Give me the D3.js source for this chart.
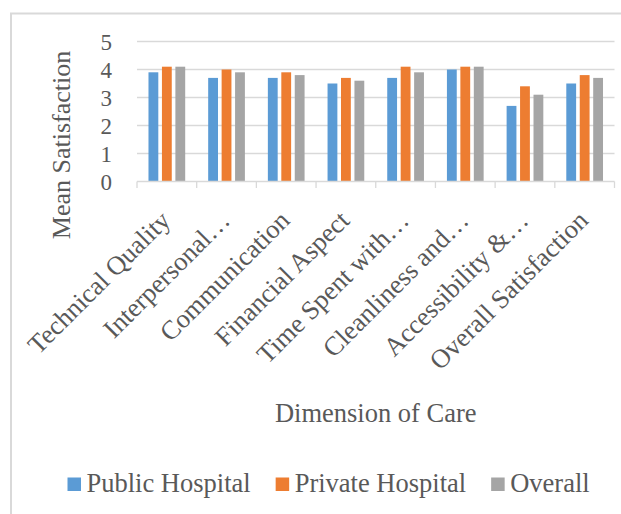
<!DOCTYPE html>
<html>
<head>
<meta charset="utf-8">
<script src="https://cdn.jsdelivr.net/npm/d3@7"></script>
<style>
  html, body { margin: 0; padding: 0; background: #fff; }
  svg { display: block; }
</style>
</head>
<body>
<svg id="chart" width="621" height="514" font-family="Liberation Serif, DejaVu Serif, Times New Roman, serif"></svg>
<script>
const categories = ["Technical Quality", "Interpersonal…", "Communication", "Financial Aspect",
  "Time Spent with…", "Cleanliness and…", "Accessibility &…", "Overall Satisfaction"];
const seriesNames = ["Public Hospital", "Private Hospital", "Overall"];
const publicValues = [3.9, 3.7, 3.7, 3.5, 3.7, 4.0, 2.7, 3.5];
const privateValues = [4.1, 4.0, 3.9, 3.7, 4.1, 4.1, 3.4, 3.8];
const overallValues = [4.1, 3.9, 3.8, 3.6, 3.9, 4.1, 3.1, 3.7];
const yTicks = [0, 1, 2, 3, 4, 5];
const colors = ["#5b9bd5", "#ed7d31", "#a5a5a5"];
const yTitle = "Mean Satisfaction";
const xTitle = "Dimension of Care";

const seriesValues = [publicValues, privateValues, overallValues];
const rows = categories.map((c, i) => ({ cat: c, vals: seriesValues.map((s, k) => ({ k, v: s[i] })) }));

const FONT = "Liberation Serif, DejaVu Serif, Times New Roman, serif";
const TXT = "#595959";
const svg = d3.select("#chart");
const grid = "#d9d9d9";

// chart border (cropped on right/bottom)
svg.append("path").attr("d", "M11,530 L11,13.5 L640,13.5")
  .attr("fill", "none").attr("stroke", grid).attr("stroke-width", 2);

const plot = { left: 137, right: 614.5, top: 41.5, bottom: 181.5 };
const x0 = d3.scaleBand().domain(categories).range([plot.left, plot.right]).paddingInner(0.385).paddingOuter(0.1925);
const x1 = d3.scaleBand().domain(d3.range(seriesNames.length)).range([0, x0.bandwidth()]).paddingInner(0.27);
const y = d3.scaleLinear().domain([0, 5]).range([plot.bottom, plot.top]);

// gridlines
svg.append("g").selectAll("line").data(yTicks.filter(t => t > 0)).join("line")
  .attr("x1", plot.left).attr("x2", plot.right)
  .attr("y1", d => y(d)).attr("y2", d => y(d))
  .attr("stroke", grid).attr("stroke-width", 1.3);

// y axis labels
const yAxis = d3.axisLeft(y).tickValues(yTicks).tickSize(0).tickPadding(0).tickFormat(d3.format("d"));
const yg = svg.append("g").attr("transform", `translate(112,0)`).call(yAxis);
yg.attr("font-family", FONT).attr("font-size", 23);
yg.select(".domain").remove();
yg.selectAll("text").attr("fill", TXT).attr("dy", "0.34em");

// bars
svg.append("g").selectAll("g").data(rows).join("g")
  .attr("transform", d => `translate(${x0(d.cat)},0)`)
  .selectAll("rect").data(d => d.vals).join("rect")
  .attr("x", d => x1(d.k)).attr("width", x1.bandwidth())
  .attr("y", d => y(d.v)).attr("height", d => y(0) - y(d.v))
  .attr("fill", d => colors[d.k]);

// x axis
const xg = svg.append("g").attr("transform", `translate(0,${plot.bottom})`);
xg.append("line").attr("x1", plot.left).attr("x2", plot.right).attr("y1", 0).attr("y2", 0)
  .attr("stroke", grid).attr("stroke-width", 1.3);
xg.selectAll(".sep").data(d3.range(categories.length + 1)).join("line")
  .attr("x1", i => plot.left + i * (plot.right - plot.left) / categories.length)
  .attr("x2", i => plot.left + i * (plot.right - plot.left) / categories.length)
  .attr("y1", 0).attr("y2", 6.5).attr("stroke", grid).attr("stroke-width", 1.3);

// category labels
svg.append("g").selectAll("text").data(categories).join("text")
  .attr("transform", d => `translate(${x0(d) + x0.bandwidth() / 2 + 5},222) rotate(-45)`)
  .attr("text-anchor", "end").attr("font-size", 26.5)
  .attr("font-family", FONT).attr("fill", TXT).text(d => d);

// axis titles
svg.append("text").attr("transform", `translate(70,145) rotate(-90)`)
  .attr("text-anchor", "middle").attr("font-size", 26)
  .attr("font-family", FONT).attr("fill", TXT).text(yTitle);
svg.append("text").attr("x", (plot.left + plot.right) / 2).attr("y", 421.5)
  .attr("text-anchor", "middle").attr("font-size", 26.5)
  .attr("font-family", FONT).attr("fill", TXT).text(xTitle);

// legend
const lg = svg.append("g");
let lx = 67.5;
seriesNames.forEach((name, k) => {
  lg.append("rect").attr("x", lx).attr("y", 477.5).attr("width", 13.5).attr("height", 13.5).attr("fill", colors[k]);
  const t = lg.append("text").attr("x", lx + 19).attr("y", 491.5).attr("font-size", 26.5)
    .attr("font-family", FONT).attr("fill", TXT).text(name);
  lx += 19 + t.node().getComputedTextLength() + 25;
});
</script>
</body>
</html>
